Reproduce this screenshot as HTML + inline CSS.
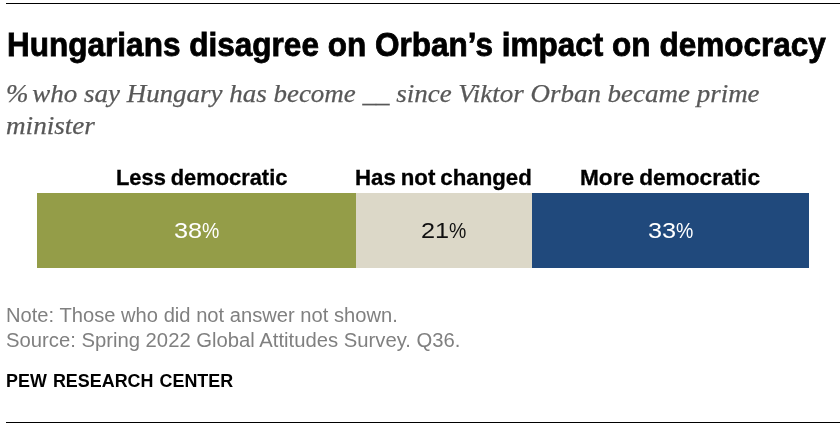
<!DOCTYPE html>
<html lang="en">
<head>
<meta charset="utf-8">
<title>Hungarians disagree on Orban’s impact on democracy</title>
<style>
html,body{margin:0;padding:0;background:#fff;}
body{width:840px;height:426px;position:relative;overflow:hidden;font-family:"Liberation Sans",sans-serif;}
.abs{position:absolute;white-space:nowrap;transform-origin:0 0;line-height:1;}
.rule{position:absolute;left:6px;right:0;height:1px;background:#000;}
#title{left:6.9px;top:28.2px;transform:scaleX(0.933);font-size:33.8px;-webkit-text-stroke:0.8px #000;font-weight:bold;color:#000;}
.sub{font-family:"Liberation Serif",serif;font-style:italic;color:#585858;-webkit-text-stroke:0.25px #585858;font-size:25px;transform:scaleX(1.07);}
.lab{font-weight:bold;font-size:21.3px;color:#000;transform:scaleX(1.027);word-spacing:-1.2px;-webkit-text-stroke:0.3px #000;}
.bar{position:absolute;top:193px;height:75px;}
.val{position:absolute;top:193.4px;height:75px;line-height:75px;text-align:center;font-size:22.2px;white-space:nowrap;}
.val b,.val i{display:inline-block;font-weight:normal;font-style:normal;transform-origin:0 50%;text-align:left;}
.val b{width:27.9px;}.val b span{display:inline-block;transform:scale(1.14,1.035);transform-origin:0 50%;}
.val i{width:17.3px;}.val i span{display:inline-block;transform:scale(0.877,1.035);transform-origin:0 50%;}
.note{font-size:19px;color:#808080;transform:scale(1.061,1.02);}
#pew{font-weight:bold;font-size:18.5px;color:#000;transform:scaleX(0.968);word-spacing:1.2px;}
</style>
</head>
<body>
<div class="rule" style="top:3px"></div>
<div id="title" class="abs">Hungarians disagree on Orban’s impact on democracy</div>
<div id="sub1" class="abs sub" style="left:6px;top:80.7px;transform:scaleX(1.0784)"><span style="margin-right:-2.7px">%</span> who say Hungary has become __ since Viktor Orban became prime</div>
<div id="sub2" class="abs sub" style="left:6px;top:113px;transform:scaleX(1.085)">minister</div>

<div id="lab1" class="abs lab" style="left:116px;top:167.6px;">Less democratic</div>
<div id="lab2" class="abs lab" style="left:355px;top:167.6px;transform:scaleX(1.045);">Has not changed</div>
<div id="lab3" class="abs lab" style="left:580px;top:167.6px;transform:scaleX(1.0635);">More democratic</div>

<div class="bar" style="left:37px;width:319px;background:#949d48;"></div>
<div class="bar" style="left:356px;width:176px;background:#dcd8c8;"></div>
<div class="bar" style="left:532px;width:277px;background:#20497c;"></div>
<div class="val" style="left:37px;width:319px;color:#fff;"><b><span>38</span></b><i><span>%</span></i></div>
<div class="val" style="left:356px;width:176px;color:#111;"><b><span>21</span></b><i><span>%</span></i></div>
<div class="val" style="left:532px;width:277px;color:#fff;"><b><span>33</span></b><i><span>%</span></i></div>

<div id="note1" class="abs note" style="left:5.6px;top:305.6px;">Note: Those who did not answer not shown.</div>
<div id="note2" class="abs note" style="left:5.6px;top:330.6px;transform:scale(1.066,1.02);">Source: Spring 2022 Global Attitudes Survey. Q36.</div>
<div id="pew" class="abs" style="left:5.6px;top:371.6px;">PEW RESEARCH CENTER</div>
<div class="rule" style="top:422px"></div>
</body>
</html>
